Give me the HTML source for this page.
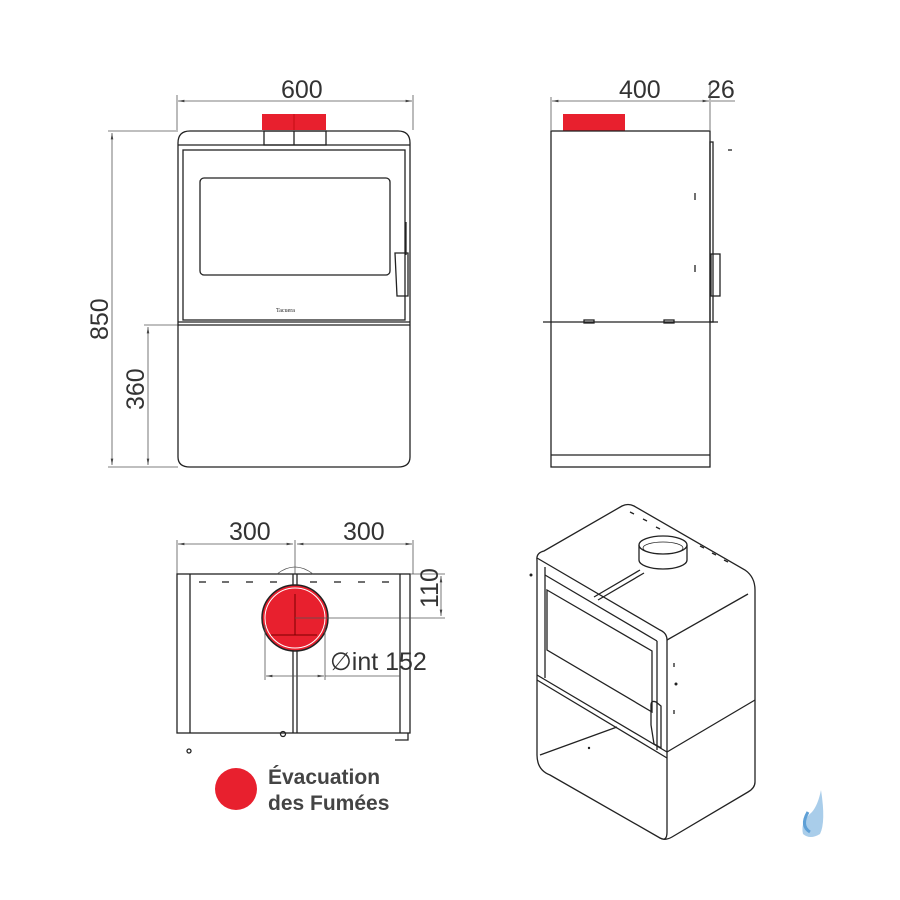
<!DOCTYPE html>
<html><head><meta charset="utf-8"><style>
html,body{margin:0;padding:0;background:#fff}
svg{display:block}
.d{font-family:"Liberation Sans Narrow","Liberation Sans",sans-serif;font-size:25px;fill:#333}
.l{stroke:#222;stroke-width:1.3;fill:none}
.t{stroke:#555;stroke-width:0.8;fill:none}
</style></head><body>
<svg width="900" height="900" viewBox="0 0 900 900" xmlns="http://www.w3.org/2000/svg">
<defs><marker id="a" viewBox="0 0 10 10" refX="10" refY="5" markerWidth="8" markerHeight="8" orient="auto-start-reverse"><path d="M0,3L10,5L0,7z" fill="#444"/></marker></defs>

<!-- FRONT VIEW -->
<text class="d" x="281" y="98">600</text>
<line class="t" x1="177" y1="95" x2="177" y2="130"/><line class="t" x1="413" y1="95" x2="413" y2="130"/>
<line class="t" x1="178" y1="101" x2="412" y2="101" marker-start="url(#a)" marker-end="url(#a)"/>
<line class="t" x1="108" y1="131" x2="178" y2="131"/><line class="t" x1="108" y1="467" x2="178" y2="467"/>
<line class="t" x1="112" y1="133" x2="112" y2="465" marker-start="url(#a)" marker-end="url(#a)"/>
<text class="d" transform="translate(108,340) rotate(-90)">850</text>
<line class="t" x1="144" y1="325" x2="178" y2="325"/>
<line class="t" x1="148" y1="327" x2="148" y2="465" marker-start="url(#a)" marker-end="url(#a)"/>
<text class="d" transform="translate(144,410) rotate(-90)">360</text>
<rect x="262" y="114" width="64" height="16" fill="#e8202e"/>
<line x1="294" y1="114" x2="294" y2="130" stroke="#a00" stroke-width="0.6"/>
<path class="l" d="M190,131 H398 Q410,131 410,143 V457 Q410,467 398,467 H190 Q178,467 178,457 V143 Q178,131 190,131 Z"/>
<line class="l" x1="178" y1="145" x2="410" y2="145"/>
<rect class="l" x="183" y="150" width="222" height="170"/>
<rect class="l" x="200" y="178" width="190" height="97" rx="4"/>
<line class="l" x1="178" y1="322" x2="410" y2="322"/><line class="l" x1="178" y1="325" x2="410" y2="325"/>
<rect class="l" x="264" y="131" width="62" height="14"/>
<line class="l" x1="294" y1="131" x2="294" y2="145"/>
<line class="l" x1="406" y1="222" x2="406" y2="255"/>
<path class="l" d="M395,253 H408 V296 H397 Z"/>
<text x="276" y="312" font-family="Liberation Serif" font-size="6" fill="#222">Tacuera</text>

<!-- SIDE VIEW -->
<text class="d" x="619" y="98">400</text><text class="d" x="707" y="98">26</text>
<line class="t" x1="551" y1="97" x2="551" y2="130"/><line class="t" x1="710" y1="85" x2="710" y2="130"/>
<line class="t" x1="552" y1="101" x2="709" y2="101" marker-start="url(#a)" marker-end="url(#a)"/>
<line class="t" x1="711" y1="101" x2="735" y2="101"/>
<rect x="563" y="114" width="62" height="17" fill="#e8202e"/>
<rect class="l" x="551" y="131" width="159" height="336"/>
<line class="l" x1="551" y1="455" x2="710" y2="455"/>
<line class="l" x1="543" y1="322" x2="718" y2="322"/>
<rect class="l" x="710" y="142" width="3" height="180"/>
<rect class="l" x="711" y="254" width="9" height="42"/>
<line class="l" x1="695" y1="193" x2="695" y2="200"/><line class="l" x1="695" y1="265" x2="695" y2="272"/>
<line class="l" x1="728" y1="150" x2="732" y2="150"/>
<rect class="l" x="584" y="320" width="10" height="3"/><rect class="l" x="664" y="320" width="10" height="3"/>

<!-- TOP VIEW -->
<text class="d" x="229" y="540">300</text><text class="d" x="343" y="540">300</text>
<line class="t" x1="177" y1="540" x2="177" y2="574"/><line class="t" x1="413" y1="540" x2="413" y2="574"/>
<line class="t" x1="295" y1="540" x2="295" y2="574"/>
<line class="t" x1="178" y1="544" x2="293" y2="544" marker-start="url(#a)" marker-end="url(#a)"/>
<line class="t" x1="297" y1="544" x2="412" y2="544" marker-start="url(#a)" marker-end="url(#a)"/>
<rect class="l" x="177" y="574" width="233" height="159"/>
<line class="l" x1="190" y1="574" x2="190" y2="733"/><line class="l" x1="400" y1="574" x2="400" y2="733"/>
<g stroke="#222" stroke-width="1.3">
<line x1="199" y1="582" x2="206" y2="582"/><line x1="222" y1="582" x2="229" y2="582"/><line x1="246" y1="582" x2="253" y2="582"/><line x1="270" y1="582" x2="277" y2="582"/>
<line x1="310" y1="582" x2="317" y2="582"/><line x1="334" y1="582" x2="341" y2="582"/><line x1="358" y1="582" x2="365" y2="582"/><line x1="382" y1="582" x2="389" y2="582"/></g>
<path class="t" d="M277,574 Q295,560 313,574"/>
<circle cx="295" cy="618" r="33" fill="#e8202e" stroke="#222" stroke-width="1.5"/>
<circle cx="295" cy="618" r="30" fill="none" stroke="#fff" stroke-width="1"/>
<line x1="295" y1="594" x2="295" y2="635" stroke="#7a0000"/><line x1="271" y1="635" x2="317" y2="635" stroke="#7a0000"/>
<line class="l" x1="293" y1="651" x2="293" y2="733"/><line class="l" x1="297" y1="651" x2="297" y2="733"/>
<line class="l" x1="293" y1="574" x2="293" y2="585"/><line class="l" x1="297" y1="574" x2="297" y2="585"/>
<line class="t" x1="295" y1="618" x2="445" y2="618"/><line class="t" x1="410" y1="574" x2="445" y2="574"/>
<line class="t" x1="441" y1="576" x2="441" y2="616" marker-start="url(#a)" marker-end="url(#a)"/>
<text class="d" transform="translate(438,608) rotate(-90)">110</text>
<line class="t" x1="265" y1="625" x2="265" y2="680"/><line class="t" x1="325" y1="625" x2="325" y2="680"/>
<line class="t" x1="266" y1="676" x2="324" y2="676" marker-start="url(#a)" marker-end="url(#a)"/>
<line class="t" x1="325" y1="676" x2="400" y2="676"/>
<text class="d" x="330" y="670">∅int 152</text>
<circle cx="283" cy="734" r="2.5" class="l"/>
<path class="l" d="M395,740 H408 V733"/>
<circle cx="189" cy="751" r="2" class="l"/>

<!-- LEGEND -->
<circle cx="236" cy="789" r="21" fill="#e8202e"/>
<text x="268" y="784" font-family="Liberation Sans" font-weight="bold" font-size="21" fill="#444">Évacuation</text>
<text x="268" y="810" font-family="Liberation Sans" font-weight="bold" font-size="21" fill="#444">des Fumées</text>

<!-- ISO VIEW -->
<g class="l">
<path d="M537,560 Q536,553 544,551 L622,506 Q628,503 634,506 L745,570 Q755,577 755,590 V782 Q755,788 748,792 L672,837 Q665,841 660,838"/>
<path d="M537,560 V755 Q537,770 550,775 L660,838 Q667,842 667,832 V640 Q667,633 660,630 L537,558"/>
<line x1="667" y1="640" x2="748" y2="594"/>
<line x1="537" y1="675" x2="667" y2="752"/><line x1="667" y1="752" x2="755" y2="700"/>
<line x1="537" y1="680" x2="667" y2="758"/>
<line x1="545" y1="575" x2="657" y2="641"/>
<line x1="545" y1="567" x2="545" y2="678"/><line x1="657" y1="641" x2="657" y2="750"/>
<path d="M547,590 L652,651 V712 L547,650 Z"/>
<line x1="540" y1="755" x2="617" y2="727"/>
<line x1="594" y1="597" x2="640" y2="570"/><line x1="598" y1="600" x2="644" y2="573"/>
<path d="M651,725 L651,705 Q651,700 656,702 L661,706 V748 L654,744 Z"/>
</g>
<path d="M639,545 V560 A24,9 0 0 0 687,560 V545" fill="#fff" stroke="#222" stroke-width="1.3"/>
<ellipse cx="663" cy="545" rx="24" ry="9" fill="#fff" stroke="#222" stroke-width="1.3"/>
<ellipse cx="663" cy="548" rx="20" ry="6" fill="none" stroke="#222" stroke-width="0.8"/>
<g stroke="#222" stroke-width="1.3">
<line x1="630" y1="512" x2="634" y2="514"/><line x1="643" y1="519" x2="647" y2="521"/><line x1="656" y1="527" x2="660" y2="529"/>
<line x1="700" y1="546" x2="704" y2="548"/><line x1="712" y1="553" x2="716" y2="555"/><line x1="724" y1="560" x2="728" y2="562"/>
<line x1="674" y1="663" x2="674" y2="667"/><line x1="674" y1="710" x2="674" y2="714"/></g>
<circle cx="531" cy="575" r="1.5" fill="#222"/><circle cx="676" cy="684" r="1.5" fill="#222"/><circle cx="589" cy="748" r="1.2" fill="#222"/>

<!-- logo -->
<path d="M821,790 Q818,805 812,812 Q800,822 803,834 Q810,840 820,834 Q826,822 821,790 Z" fill="#a9cdea"/>
<path d="M808,812 Q800,826 810,832" fill="none" stroke="#5fa0d6" stroke-width="3"/>
</svg>
</body></html>
